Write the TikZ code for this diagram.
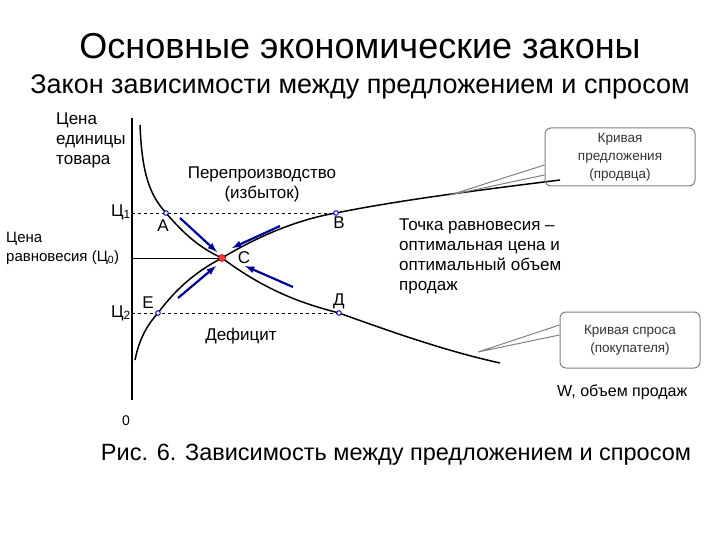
\documentclass[tikz,border=0pt]{standalone}
\usepackage{fontspec}
\setmainfont{Liberation Sans}
\begin{document}
\begin{tikzpicture}[x=1pt,y=-1pt,
  lbl/.style={font=\fontsize{17}{20}\selectfont,inner sep=0pt},
  pt/.style={circle,draw=blue!70!black,fill=white,line width=1pt,inner sep=1.6pt},
  bar/.style={->,>=latex,draw=blue!60!black,line width=2.2pt},
  callout/.style={draw=gray,rounded corners=6pt,line width=1pt,align=center,font=\fontsize{13.5}{18}\selectfont,text=black!80}]
\useasboundingbox (0,0) rectangle (720,540);
\node[font=\fontsize{36}{40}\selectfont] (t) at (360,46) {Основные экономические законы};
\node[font=\fontsize{27}{30}\selectfont] (st) at (360,87) {Закон зависимости между предложением и спросом};
\node[font=\fontsize{23.5}{26}\selectfont] (cap) at (396,455) {Рис. 6. Зависимость между предложением и спросом};
% axis
\coordinate (ytop) at (132,118); \coordinate (ybot) at (132,400);
\draw[line width=1.5pt] (ytop) -- (ybot);
% points
\coordinate (A) at (166,213); \coordinate (B) at (336,213);
\coordinate (C) at (222,258); \coordinate (E) at (158,313); \coordinate (D) at (339,313);
\coordinate (y1) at (132,213); \coordinate (y0) at (132,258); \coordinate (y2) at (132,313);
\draw[dashed,line width=0.9pt] (y1) -- (B);
\draw[line width=0.9pt] (y0) -- (C);
\draw[dashed,line width=0.9pt] (y2) -- (D);
% supply
\draw[line width=1.5pt] (135,360) .. controls (140,335) and (150,322) .. (E)
  .. controls (175,290) and (195,272) .. (C)
  .. controls (255,238) and (295,220) .. (B)
  .. controls (400,200) and (480,190) .. (560,180);
% demand
\draw[line width=1.5pt] (140,125) .. controls (142,175) and (150,195) .. (A)
  .. controls (185,235) and (200,248) .. (C)
  .. controls (265,290) and (300,303) .. (D)
  .. controls (400,335) and (450,352) .. (500,363);
\node[pt] (pA) at (A) {}; \node[pt] (pB) at (B) {}; \node[pt] (pE) at (E) {}; \node[pt] (pD) at (D) {};
\node[circle,fill=red!80,draw=red!60!black,inner sep=2.5pt] (pC) at (C) {};
% arrows
\coordinate (a1) at (180,218); \coordinate (a1e) at (217,252);
\coordinate (a2) at (280,226); \coordinate (a2e) at (232,248);
\coordinate (a3) at (178,298); \coordinate (a3e) at (216,266);
\coordinate (a4) at (293,287); \coordinate (a4e) at (245,266);
\draw[bar] (a1) -- (a1e); \draw[bar] (a2) -- (a2e);
\draw[bar] (a3) -- (a3e); \draw[bar] (a4) -- (a4e);
% labels
\node[lbl,align=left,anchor=north west] (yl) at (56,113) {Цена\\единицы\\товара};
\node[lbl,anchor=east] (l1) at (131,212) {Ц\textsubscript{1}};
\node[lbl,anchor=east] (l2) at (131,313) {Ц\textsubscript{2}};
\node[lbl,align=left,anchor=north west,font=\fontsize{15}{19}\selectfont] (l0) at (6,232) {Цена\\равновесия (Ц\textsubscript{0})};
\node[lbl] (nA) at (163,226) {A};
\node[lbl] (nB) at (339,223) {B};
\node[lbl] (nC) at (244,258) {C};
\node[lbl] (nE) at (148,303) {E};
\node[lbl] (nD) at (339,301) {Д};
\node[lbl,font=\fontsize{14}{16}\selectfont] (n0) at (126,421) {0};
\node[lbl,align=center] (over) at (262,184) {Перепроизводство\\(избыток)};
\node[lbl] (def) at (241,336) {Дефицит};
\node[lbl,align=left,anchor=north west] (eq) at (399,219) {Точка равновесия –\\оптимальная цена и\\оптимальный объем\\продаж};
\node[lbl,anchor=west,font=\fontsize{16}{18}\selectfont] (w) at (557,392) {W, объем продаж};
% callouts
\node[callout,minimum width=150pt,minimum height=58pt] (cs) at (620,157) {Кривая\\предложения\\(продвца)};
\node[callout,minimum width=140pt,minimum height=56pt] (cd) at (630,340) {Кривая спроса\\(покупателя)};
\coordinate (ts) at (450,195); \coordinate (td) at (478,352);
\draw[gray,line width=1pt] ([yshift=-18pt]cs.west) -- (ts) -- ([yshift=-8pt]cs.west);
\draw[gray,line width=1pt] ([yshift=5pt]cd.west) -- (td) -- ([yshift=15pt]cd.west);
\end{tikzpicture}
\end{document}
